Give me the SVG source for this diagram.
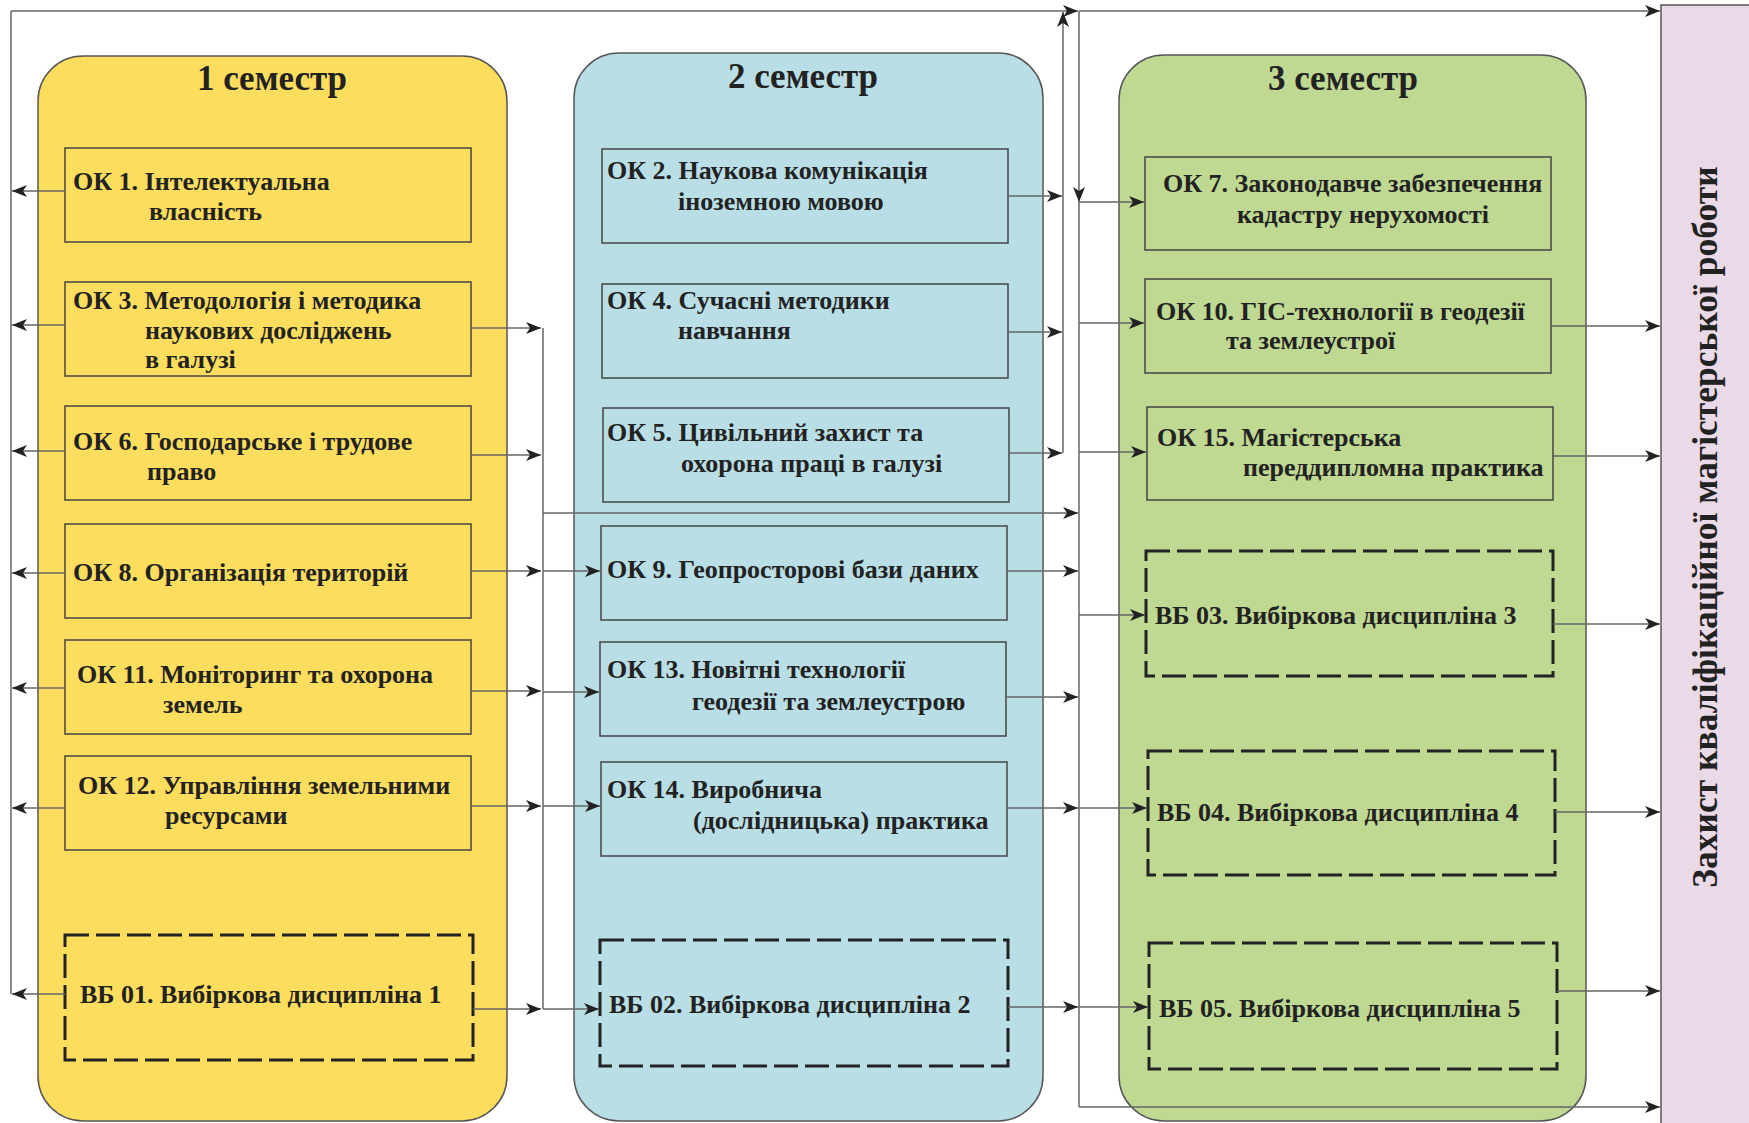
<svg xmlns="http://www.w3.org/2000/svg" width="1749" height="1123" viewBox="0 0 1749 1123">
<defs>
<marker id="ah" markerUnits="userSpaceOnUse" markerWidth="16" markerHeight="12" refX="15" refY="6" orient="auto">
<path d="M0,0 L15,6 L0,12 L4,6 z" fill="#222"/>
</marker>
</defs>
<style>
.panel{stroke:#555;stroke-width:1.5}
.y{fill:#FDDD5E}
.b{fill:#B9DEE6}
.g{fill:#BFD892}
.p{fill:#EAD9E6}
.box{stroke:#444;stroke-width:1.5}
.dbox{stroke:#222;stroke-width:3;stroke-dasharray:24 7}
.t{font-family:"Liberation Serif","Times New Roman",serif;font-weight:bold;font-size:26px;fill:#222}
.title{font-size:35px;text-anchor:middle}
.c{stroke:#666;stroke-width:1.5;fill:none}
.a{marker-end:url(#ah)}
</style>
<rect x="0" y="0" width="1749" height="1123" fill="#fff"/>

<g id="semester1"><rect class="panel y" x="38" y="56" width="469" height="1065" rx="45"/><text class="t title" x="272" y="90">1 семестр</text></g>
<g id="semester2"><rect class="panel b" x="574" y="53" width="469" height="1068" rx="45"/><text class="t title" x="803" y="88">2 семестр</text></g>
<g id="semester3"><rect class="panel g" x="1119" y="55" width="467" height="1066" rx="45"/><text class="t title" x="1343" y="90">3 семестр</text></g>
<g id="defense"><rect class="panel p" x="1661" y="5" width="100" height="1130"/><text class="t" style="font-size:35.5px;text-anchor:middle" transform="translate(1717,527) rotate(-90)">Захист кваліфікаційної магістерської роботи</text></g>

<g id="ok1"><rect class="box y" x="65" y="148" width="406" height="94"/><text class="t" x="73" y="190">ОК 1. Інтелектуальна</text><text class="t" x="149" y="220">власність</text></g>
<g id="ok3"><rect class="box y" x="65" y="282" width="406" height="94"/><text class="t" x="73" y="309">ОК 3. Методологія і методика</text><text class="t" x="145" y="339">наукових досліджень</text><text class="t" x="145" y="368">в галузі</text></g>
<g id="ok6"><rect class="box y" x="65" y="406" width="406" height="94"/><text class="t" x="73" y="450">ОК 6. Господарське і трудове</text><text class="t" x="147" y="480">право</text></g>
<g id="ok8"><rect class="box y" x="65" y="524" width="406" height="94"/><text class="t" x="73" y="581">ОК 8. Організація територій</text></g>
<g id="ok11"><rect class="box y" x="65" y="640" width="406" height="94"/><text class="t" x="77" y="683">ОК 11. Моніторинг та охорона</text><text class="t" x="163" y="713">земель</text></g>
<g id="ok12"><rect class="box y" x="65" y="756" width="406" height="94"/><text class="t" x="78" y="794">ОК 12. Управління земельними</text><text class="t" x="165" y="824">ресурсами</text></g>
<g id="vb01"><rect class="dbox y" x="65" y="935" width="408" height="125"/><text class="t" x="80" y="1003">ВБ 01. Вибіркова дисципліна 1</text></g>

<g id="ok2"><rect class="box b" x="602" y="149" width="406" height="94"/><text class="t" x="607" y="179">ОК 2. Наукова комунікація</text><text class="t" x="678" y="210">іноземною мовою</text></g>
<g id="ok4"><rect class="box b" x="602" y="284" width="406" height="94"/><text class="t" x="607" y="309">ОК 4. Сучасні методики</text><text class="t" x="678" y="339">навчання</text></g>
<g id="ok5"><rect class="box b" x="603" y="408" width="406" height="94"/><text class="t" x="607" y="441">ОК 5. Цивільний захист та</text><text class="t" x="681" y="472">охорона праці в галузі</text></g>
<g id="ok9"><rect class="box b" x="601" y="526" width="406" height="94"/><text class="t" x="607" y="578">ОК 9. Геопросторові бази даних</text></g>
<g id="ok13"><rect class="box b" x="600" y="642" width="406" height="94"/><text class="t" x="607" y="678">ОК 13. Новітні технології</text><text class="t" x="692" y="710">геодезії та землеустрою</text></g>
<g id="ok14"><rect class="box b" x="601" y="762" width="406" height="94"/><text class="t" x="607" y="798">ОК 14. Виробнича</text><text class="t" x="693" y="829">(дослідницька) практика</text></g>
<g id="vb02"><rect class="dbox b" x="600" y="940" width="408" height="126"/><text class="t" x="609" y="1013">ВБ 02. Вибіркова дисципліна 2</text></g>

<g id="ok7"><rect class="box g" x="1145" y="157" width="406" height="93"/><text class="t" x="1163" y="192">ОК 7. Законодавче забезпечення</text><text class="t" x="1237" y="223">кадастру нерухомості</text></g>
<g id="ok10"><rect class="box g" x="1145" y="279" width="406" height="94"/><text class="t" x="1156" y="320">ОК 10. ГІС-технології в геодезії</text><text class="t" x="1226" y="349">та землеустрої</text></g>
<g id="ok15"><rect class="box g" x="1147" y="407" width="406" height="93"/><text class="t" x="1157" y="446">ОК 15. Магістерська</text><text class="t" x="1243" y="476">переддипломна практика</text></g>
<g id="vb03"><rect class="dbox g" x="1146" y="551" width="407" height="125"/><text class="t" x="1155" y="624">ВБ 03. Вибіркова дисципліна 3</text></g>
<g id="vb04"><rect class="dbox g" x="1148" y="751" width="407" height="124"/><text class="t" x="1157" y="821">ВБ 04. Вибіркова дисципліна 4</text></g>
<g id="vb05"><rect class="dbox g" x="1149" y="943" width="408" height="126"/><text class="t" x="1159" y="1017">ВБ 05. Вибіркова дисципліна 5</text></g>

<g id="connectors">
<path class="c" d="M11,11 V994"/>
<path class="c a" d="M11,11 H1078"/>
<path class="c a" d="M1079,11 H1660"/>
<path class="c a" d="M1063,453 V12"/>
<path class="c a" d="M1079,11 V202"/>
<path class="c" d="M1079,202 V1107"/>
<path class="c a" d="M1079,1107 H1660"/>
<path class="c" d="M543,328 V1009"/>

<path class="c a" d="M65,191 H12"/>
<path class="c a" d="M65,325 H12"/>
<path class="c a" d="M65,451 H12"/>
<path class="c a" d="M65,573 H12"/>
<path class="c a" d="M65,688 H12"/>
<path class="c a" d="M65,808 H12"/>
<path class="c a" d="M65,994 H12"/>

<path class="c a" d="M471,328 H541"/>
<path class="c a" d="M471,455 H541"/>
<path class="c a" d="M471,571 H541"/>
<path class="c a" d="M543,571 H600"/>
<path class="c a" d="M471,691 H541"/>
<path class="c a" d="M543,692 H599"/>
<path class="c a" d="M471,806 H541"/>
<path class="c a" d="M543,806 H600"/>
<path class="c a" d="M473,1009 H541"/>
<path class="c a" d="M543,1009 H599"/>
<path class="c a" d="M543,513 H1078"/>

<path class="c a" d="M1008,196 H1062"/>
<path class="c a" d="M1008,332 H1062"/>
<path class="c a" d="M1009,453 H1062"/>
<path class="c a" d="M1007,571 H1078"/>
<path class="c a" d="M1006,697 H1078"/>
<path class="c a" d="M1007,808 H1078"/>
<path class="c a" d="M1079,808 H1147"/>
<path class="c a" d="M1008,1007 H1078"/>
<path class="c a" d="M1079,1007 H1148"/>

<path class="c a" d="M1079,202 H1144"/>
<path class="c a" d="M1079,323 H1144"/>
<path class="c a" d="M1079,452 H1146"/>
<path class="c a" d="M1079,615 H1145"/>

<path class="c a" d="M1551,326 H1660"/>
<path class="c a" d="M1553,456 H1660"/>
<path class="c a" d="M1553,624 H1660"/>
<path class="c a" d="M1555,812 H1660"/>
<path class="c a" d="M1557,991 H1660"/>
</g>
</svg>
